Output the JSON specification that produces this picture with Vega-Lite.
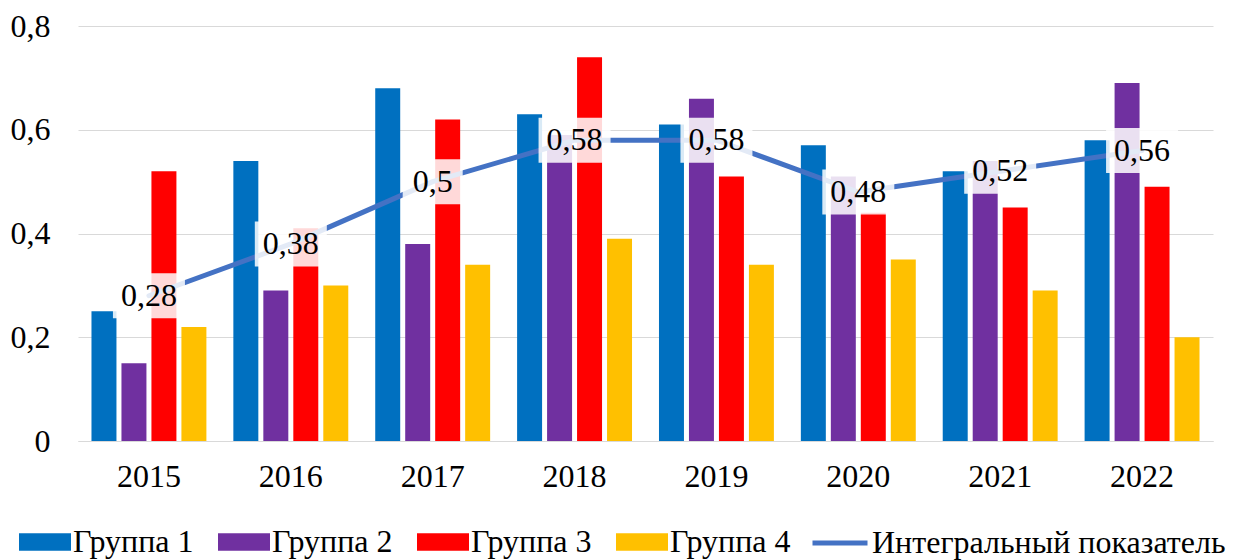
{
  "$schema": "https://vega.github.io/schema/vega-lite/v6.json",
  "width": 1135,
  "height": 415,
  "autosize": "none",
  "padding": {"left": 78, "top": 26, "right": 25, "bottom": 119},
  "background": "white",
  "config": {"view": {"stroke": null}, "font": "Liberation Serif"},
  "datasets": {
    "bars": [
      {"year": "2015", "group": "Группа 1", "value": 0.25},
      {"year": "2015", "group": "Группа 2", "value": 0.15},
      {"year": "2015", "group": "Группа 3", "value": 0.52},
      {"year": "2015", "group": "Группа 4", "value": 0.22},
      {"year": "2016", "group": "Группа 1", "value": 0.54},
      {"year": "2016", "group": "Группа 2", "value": 0.29},
      {"year": "2016", "group": "Группа 3", "value": 0.41},
      {"year": "2016", "group": "Группа 4", "value": 0.30},
      {"year": "2017", "group": "Группа 1", "value": 0.68},
      {"year": "2017", "group": "Группа 2", "value": 0.38},
      {"year": "2017", "group": "Группа 3", "value": 0.62},
      {"year": "2017", "group": "Группа 4", "value": 0.34},
      {"year": "2018", "group": "Группа 1", "value": 0.63},
      {"year": "2018", "group": "Группа 2", "value": 0.59},
      {"year": "2018", "group": "Группа 3", "value": 0.74},
      {"year": "2018", "group": "Группа 4", "value": 0.39},
      {"year": "2019", "group": "Группа 1", "value": 0.61},
      {"year": "2019", "group": "Группа 2", "value": 0.66},
      {"year": "2019", "group": "Группа 3", "value": 0.51},
      {"year": "2019", "group": "Группа 4", "value": 0.34},
      {"year": "2020", "group": "Группа 1", "value": 0.57},
      {"year": "2020", "group": "Группа 2", "value": 0.51},
      {"year": "2020", "group": "Группа 3", "value": 0.44},
      {"year": "2020", "group": "Группа 4", "value": 0.35},
      {"year": "2021", "group": "Группа 1", "value": 0.52},
      {"year": "2021", "group": "Группа 2", "value": 0.54},
      {"year": "2021", "group": "Группа 3", "value": 0.45},
      {"year": "2021", "group": "Группа 4", "value": 0.29},
      {"year": "2022", "group": "Группа 1", "value": 0.58},
      {"year": "2022", "group": "Группа 2", "value": 0.69},
      {"year": "2022", "group": "Группа 3", "value": 0.49},
      {"year": "2022", "group": "Группа 4", "value": 0.20}
    ],
    "line": [
      {"year": "2015", "series": "Интегральный показатель", "value": 0.28},
      {"year": "2016", "series": "Интегральный показатель", "value": 0.38},
      {"year": "2017", "series": "Интегральный показатель", "value": 0.5},
      {"year": "2018", "series": "Интегральный показатель", "value": 0.58},
      {"year": "2019", "series": "Интегральный показатель", "value": 0.58},
      {"year": "2020", "series": "Интегральный показатель", "value": 0.48},
      {"year": "2021", "series": "Интегральный показатель", "value": 0.52},
      {"year": "2022", "series": "Интегральный показатель", "value": 0.56}
    ]
  },
  "layer": [
    {
      "data": {"name": "bars"},
      "mark": {"type": "bar"},
      "encoding": {
        "x": {
          "field": "year", "type": "nominal",
          "scale": {"paddingInner": 0.19, "paddingOuter": 0.095},
          "axis": {"title": null, "labelAngle": 0, "labelFontSize": 32, "labelFont": "Liberation Serif", "labelColor": "black", "ticks": false, "domainColor": "#D9D9D9", "domainWidth": 1, "labelPadding": 20, "grid": false}
        },
        "xOffset": {"field": "group", "type": "nominal", "scale": {"paddingInner": 0.1667, "paddingOuter": 0}},
        "y": {
          "field": "value", "type": "quantitative",
          "scale": {"domain": [0, 0.8]},
          "axis": {"title": null, "values": [0, 0.2, 0.4, 0.6, 0.8], "labelExpr": "replace(format(datum.value,'~g'),'.',',')", "labelFontSize": 32, "labelFont": "Liberation Serif", "labelColor": "black", "ticks": false, "domain": false, "gridColor": "#D9D9D9", "gridWidth": 1, "labelPadding": 28}
        },
        "fill": {
          "field": "group", "type": "nominal",
          "scale": {"domain": ["Группа 1", "Группа 2", "Группа 3", "Группа 4"], "range": ["#0070C0", "#7030A0", "#FF0000", "#FFC000"]},
          "legend": {"orient": "none", "legendX": -59, "legendY": 490, "direction": "horizontal", "title": null, "symbolType": "M-1,-0.34L1,-0.34L1,0.34L-1,0.34Z", "symbolSize": 2704, "symbolStrokeWidth": 0, "labelFontSize": 32, "labelFont": "Liberation Serif", "labelColor": "black", "labelOffset": 2, "columnPadding": 24, "padding": 0, "labelLimit": 0}
        }
      }
    },
    {
      "data": {"name": "line"},
      "mark": {"type": "line", "strokeWidth": 5, "strokeCap": "round", "strokeJoin": "round"},
      "encoding": {
        "x": {"field": "year", "type": "nominal"},
        "y": {"field": "value", "type": "quantitative"},
        "stroke": {
          "field": "series", "type": "nominal",
          "scale": {"range": ["#4472C4"]},
          "legend": {"orient": "none", "legendX": 732, "legendY": 487, "title": null, "symbolType": "stroke", "symbolSize": 3025, "symbolStrokeWidth": 5, "labelFontSize": 32, "labelFont": "Liberation Serif", "labelColor": "black", "labelOffset": 2, "padding": 0, "labelLimit": 0}
        }
      }
    },
    {
      "data": {"name": "line"},
      "transform": [{"filter": "datum.value != 0.5"}],
      "mark": {"type": "point", "filled": true, "color": "white", "opacity": 0.85, "strokeWidth": 0, "shape": "M-1,-0.625L1,-0.625L1,0.625L-1,0.625Z", "size": 5184},
      "encoding": {
        "x": {"field": "year", "type": "nominal"},
        "y": {"field": "value", "type": "quantitative"}
      }
    },
    {
      "data": {"name": "line"},
      "transform": [{"filter": "datum.value == 0.5"}],
      "mark": {"type": "point", "filled": true, "color": "white", "opacity": 0.85, "strokeWidth": 0, "shape": "M-1,-0.75L1,-0.75L1,0.75L-1,0.75Z", "size": 3600},
      "encoding": {
        "x": {"field": "year", "type": "nominal"},
        "y": {"field": "value", "type": "quantitative"}
      }
    },
    {
      "data": {"name": "line"},
      "transform": [{"calculate": "replace(format(datum.value,'~g'),'.',',')", "as": "label"}],
      "mark": {"type": "text", "fontSize": 32, "font": "Liberation Serif", "color": "black", "align": "center", "baseline": "middle"},
      "encoding": {
        "x": {"field": "year", "type": "nominal"},
        "y": {"field": "value", "type": "quantitative"},
        "text": {"field": "label", "type": "nominal"}
      }
    }
  ]
}
